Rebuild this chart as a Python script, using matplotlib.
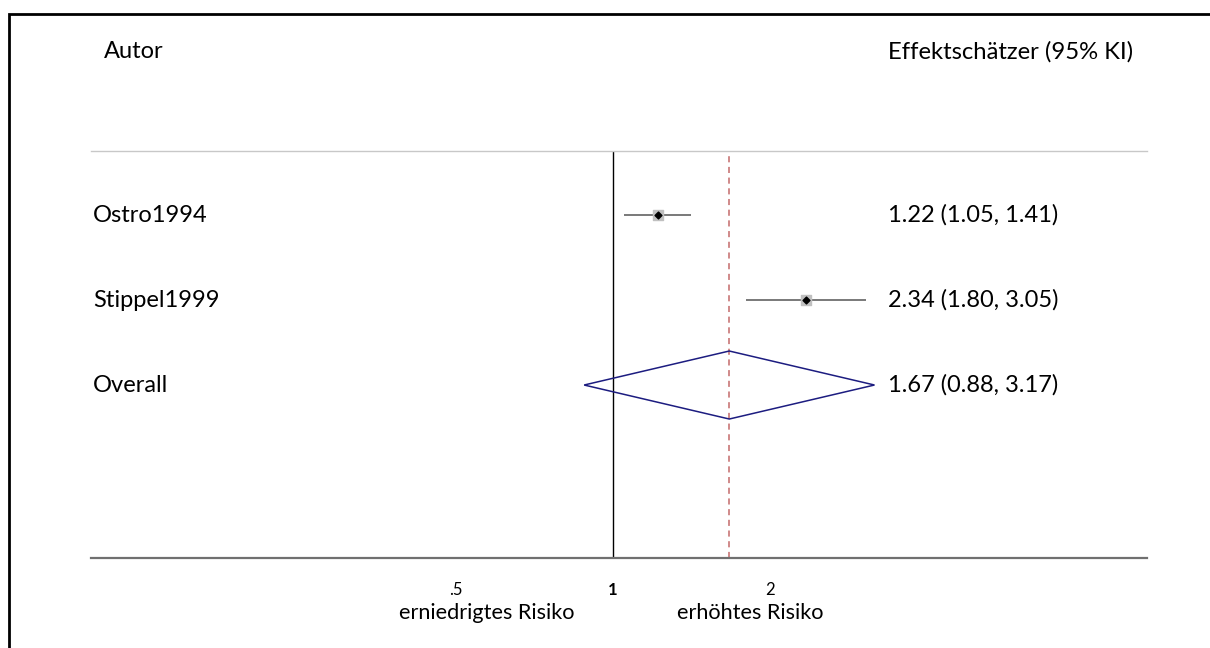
import numpy as np
import matplotlib.pyplot as plt
from matplotlib.patches import Polygon, Rectangle
from matplotlib.transforms import blended_transform_factory

plt.rcParams['font.family'] = ['Lato', 'DejaVu Sans']

# data
studies = ['Ostro1994', 'Stippel1999']
est = [1.22, 2.34]
lo = [1.05, 1.80]
hi = [1.41, 3.05]
overall_label = 'Overall'
overall = (1.67, 0.88, 3.17)
tick_vals = [0.5, 1, 2]
tick_labels = ['.5', '1', '2']

fig = plt.figure(figsize=(12.1, 6.48), dpi=100)
ax = fig.add_axes([91 / 1210, 1 - 558 / 648, 1056 / 1210, 407 / 648])

ax.set_xscale('log', base=2)
ax.set_xlim(2 ** -3.325, 2 ** 3.40)
ax.set_ylim(5.035, 0.247)

rows = np.arange(1, len(studies) + 1)
ax.axvline(1, color='black', lw=1, zorder=1)
ax.axvline(overall[0], color='#c46a6a', lw=1.1, ls=(0, (4, 3)), zorder=1)

# study estimates
ax.hlines(rows, lo, hi, color='#555555', lw=1.1, zorder=2)
ax.scatter(est, rows, marker='s', s=55, color='#c0c0c0', zorder=3)
ax.scatter(est, rows, marker='D', s=12, color='black', zorder=4)

# overall diamond
oy = len(studies) + 1
dia = Polygon([(overall[1], oy), (overall[0], oy - 0.4), (overall[2], oy),
               (overall[0], oy + 0.4)], closed=True, fill=False,
              edgecolor='#1c1c80', lw=1.1, zorder=3)
ax.add_patch(dia)

# text columns
tr = blended_transform_factory(ax.transAxes, ax.transData)
labels = studies + [overall_label]
vals = list(zip(est, lo, hi)) + [overall]
for i, (lab, v) in enumerate(zip(labels, vals)):
    ax.text(0.002, i + 1, lab, transform=tr, va='center', ha='left', fontsize=17)
    ax.text(0.755, i + 1, f'{v[0]:.2f} ({v[1]:.2f}, {v[2]:.2f})', transform=tr,
            va='center', ha='left', fontsize=17)

fig.text(104 / 1210, 1 - 52 / 648, 'Autor', va='center', ha='left', fontsize=17)
fig.text(888 / 1210, 1 - 52 / 648, 'Effektschätzer (95% KI)', va='center',
         ha='left', fontsize=17.2)

# axes styling
for side in ['left', 'right']:
    ax.spines[side].set_visible(False)
ax.spines['top'].set_color('#c8c8c8')
ax.spines['top'].set_linewidth(1)
ax.spines['bottom'].set_color('#707070')
ax.spines['bottom'].set_linewidth(1.6)
ax.set_yticks([])
ax.set_xticks(tick_vals)
ax.set_xticklabels(tick_labels, fontsize=12)
ax.minorticks_off()
ax.tick_params(axis='x', length=0, pad=17)
ax.get_xticklabels()[1].set_fontweight('bold')

trb = blended_transform_factory(ax.transData, fig.transFigure)
ax.text(0.573, 1 - 613 / 648, 'erniedrigtes Risiko', transform=trb, ha='center',
        va='center', fontsize=15.6)
ax.text(1.831, 1 - 613 / 648, 'erhöhtes Risiko', transform=trb, ha='center',
        va='center', fontsize=15.6)

# outer frame (only left and top edges visible)
fig.patches.append(Rectangle((9 / 1210, -0.1), 1.2, 1.1 - 14 / 648,
                             transform=fig.transFigure, fill=False,
                             edgecolor='black', lw=2))

fig.savefig('out.png', dpi=100)
